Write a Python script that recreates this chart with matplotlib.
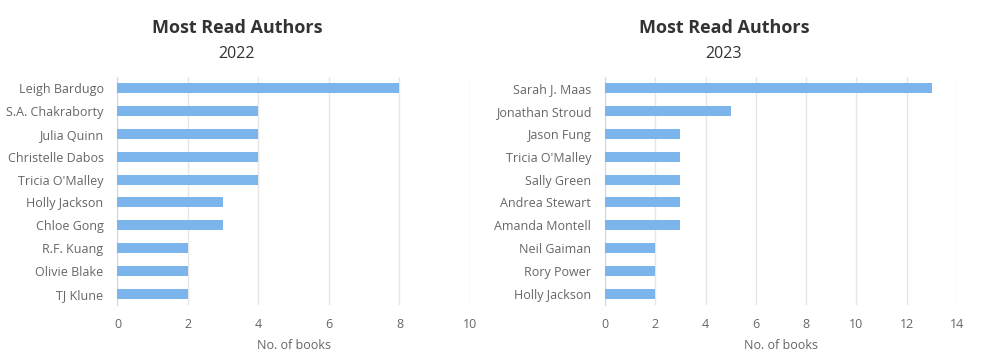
import matplotlib
matplotlib.use("Agg")
import matplotlib.pyplot as plt

authors_2022 = ["Leigh Bardugo", "S.A. Chakraborty", "Julia Quinn", "Christelle Dabos",
                "Tricia O'Malley", "Holly Jackson", "Chloe Gong", "R.F. Kuang",
                "Olivie Blake", "TJ Klune"]
books_2022 = [8, 4, 4, 4, 4, 3, 3, 2, 2, 2]

authors_2023 = ["Sarah J. Maas", "Jonathan Stroud", "Jason Fung", "Tricia O'Malley",
                "Sally Green", "Andrea Stewart", "Amanda Montell", "Neil Gaiman",
                "Rory Power", "Holly Jackson"]
books_2023 = [13, 5, 3, 3, 3, 3, 3, 2, 2, 2]

plt.rcParams["font.family"] = ["Open Sans", "DejaVu Sans"]

W, H = 987, 364
fig = plt.figure(figsize=(W / 100, H / 100), dpi=100)

BAR = "#7cb5ec"
GRID = "#e6e6e6"
TXT = "#666666"


def panel(left, right, title_x, year, names, vals, xmax, step):
    ax = fig.add_axes([left / W, 1 - 305 / H, (right - left) / W, 228 / H])
    y = range(len(names))
    ax.barh(y, vals, height=0.44, color=BAR, zorder=3)
    ax.set_ylim(len(names) - 0.5, -0.5)
    ax.set_xlim(0, xmax)
    ax.set_yticks(list(y))
    ax.set_yticklabels(names, fontsize=9, color=TXT)
    ax.set_xticks(range(0, xmax + 1, step))
    ax.tick_params(axis="x", labelsize=9, labelcolor=TXT, length=0, pad=9)
    ax.tick_params(axis="y", length=0, pad=10)
    ax.grid(axis="x", color=GRID, linewidth=1, zorder=0)
    for s in ["top", "right", "bottom"]:
        ax.spines[s].set_visible(False)
    ax.spines["left"].set_color("#ccd6eb")
    ax.set_xlabel("No. of books", fontsize=9, color=TXT, labelpad=6)
    cx = title_x / W
    fig.text(cx, 1 - 28 / H, "Most Read Authors", ha="center", va="center",
             fontsize=13, fontweight="bold", color="#333333")
    fig.text(cx, 1 - 54 / H, year, ha="center", va="center",
             fontsize=11.5, color="#333333")
    return ax


panel(117.5, 470, 237, "2022", authors_2022, books_2022, 10, 2)
panel(605, 957, 724, "2023", authors_2023, books_2023, 14, 2)

fig.savefig("out.png", dpi=100, facecolor="white")
